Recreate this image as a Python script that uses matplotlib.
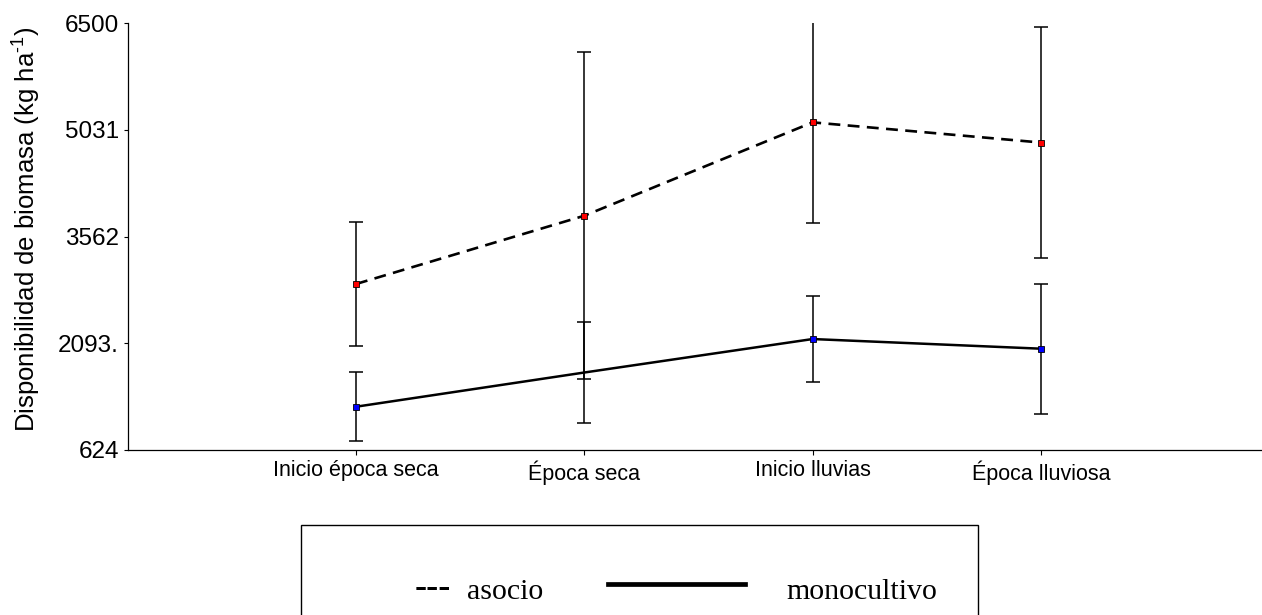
import matplotlib
matplotlib.use("Agg")
import matplotlib.pyplot as plt
from matplotlib.lines import Line2D
from matplotlib.patches import Rectangle

# biomass availability per sampling period
periodos = ["Inicio época seca", "Época seca", "Inicio lluvias", "Época lluviosa"]
asocio = [2910, 3850, 5136, 4858]
asocio_err = [851, 2250, 1381, 1588]
monocultivo = [1220, 1691, 2152, 2019]
monocultivo_err = [478, 695, 597, 895]
yticks = [624, 2093.5, 3562, 5031, 6500]
ytick_labels = ["624", "2093.", "3562", "5031", "6500"]

x = [1, 2, 3, 4]

plt.rcParams["mathtext.fontset"] = "custom"
plt.rcParams["mathtext.rm"] = "Liberation Sans"
plt.rcParams["mathtext.it"] = "Liberation Sans"

fig = plt.figure(figsize=(12.62, 6.15), dpi=100)
ax = fig.add_axes([0.1012, 0.2683, 5 * 228.3 / 1262, 0.6938])

sans = "Liberation Sans"
serif = "Liberation Serif"

# error bars first, then the lines and square markers on top
ax.errorbar(x, asocio, yerr=asocio_err, fmt="none", ecolor="black",
            elinewidth=1.1, capsize=5, capthick=1.1, zorder=2)
ax.errorbar(x, monocultivo, yerr=monocultivo_err, fmt="none", ecolor="black",
            elinewidth=1.1, capsize=5, capthick=1.1, zorder=2)

ax.plot(x, asocio, color="black", lw=1.9, dashes=(4.5, 2.8), zorder=3)
ax.plot(x, monocultivo, color="black", lw=1.8, zorder=3)

ax.plot(x, asocio, ls="none", marker="s", ms=4.5, mfc="red", mec="black",
        mew=0.6, zorder=4)
ax.plot(x, monocultivo, ls="none", marker="s", ms=4.5, mfc="blue", mec="black",
        mew=0.6, markevery=[0, 2, 3], zorder=4)

ax.set_xlim(0, 5)
ax.set_ylim(624, 6500)
ax.set_xticks(x)
ax.set_xticklabels(periodos, fontsize=15.5, family=sans)
ax.set_yticks(yticks)
ax.set_yticklabels(ytick_labels, fontsize=17.5, family=sans)
ax.tick_params(axis="x", direction="out", length=3.5, width=0.8, pad=4)
ax.tick_params(axis="y", direction="out", length=3.2, width=0.8, pad=3)

ax.spines["top"].set_visible(False)
ax.spines["right"].set_visible(False)
ax.spines["left"].set_linewidth(0.9)
ax.spines["bottom"].set_linewidth(0.9)

ax.set_ylabel("Disponibilidad de biomasa (kg ha$^{\\text{-1}}$)",
              fontsize=18.5, family=sans)
ax.yaxis.set_label_coords(-0.074, 0.516)

# boxed key below the plot
W, H = 1262.0, 615.0
box = Rectangle((300.7 / W, -0.05), (978 - 300.7) / W, 0.05 + (H - 525) / H,
                transform=fig.transFigure, fill=False, edgecolor="black",
                lw=1.0, clip_on=False)
fig.add_artist(box)
fig.text(415 / W, (H - 597) / H, "---", family=serif, fontsize=26,
         fontweight="bold", va="baseline", ha="left")
fig.text(467 / W, (H - 599) / H, "asocio", family=serif, fontsize=21.5,
         va="baseline", ha="left")
fig.add_artist(Line2D([608 / W, 745 / W], [(H - 584) / H, (H - 584) / H],
                      transform=fig.transFigure, color="black", lw=3.4))
fig.text(786 / W, (H - 599) / H, "monocultivo", family=serif, fontsize=21.5,
         va="baseline", ha="left")

fig.savefig("out.png", dpi=100)
